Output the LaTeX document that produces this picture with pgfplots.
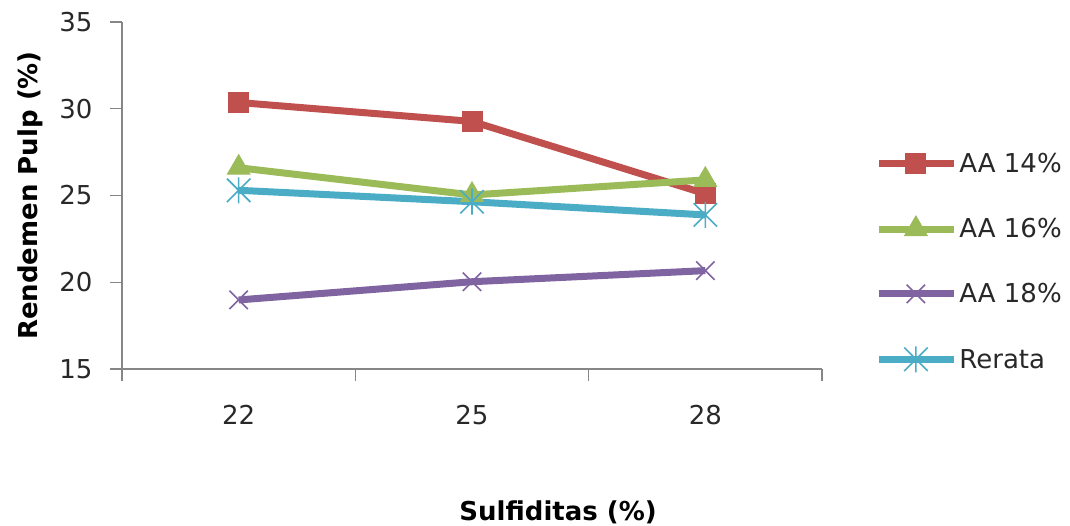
\documentclass[border=0pt]{standalone}
\usepackage{fontspec}
\setmainfont{DejaVu Sans}
\usepackage{pgfplots}
\pgfplotsset{compat=1.18}
\definecolor{cRed}{RGB}{192,80,77}
\definecolor{cGreen}{RGB}{155,187,89}
\definecolor{cPurple}{RGB}{128,100,162}
\definecolor{cCyan}{RGB}{75,172,198}
\definecolor{axgray}{RGB}{134,134,134}
\definecolor{txt}{RGB}{40,40,40}
\pgfdeclareplotmark{xstar}{%
  \pgfpathmoveto{\pgfqpoint{-0.9\pgfplotmarksize}{-0.9\pgfplotmarksize}}%
  \pgfpathlineto{\pgfqpoint{0.9\pgfplotmarksize}{0.9\pgfplotmarksize}}%
  \pgfpathmoveto{\pgfqpoint{-0.9\pgfplotmarksize}{0.9\pgfplotmarksize}}%
  \pgfpathlineto{\pgfqpoint{0.9\pgfplotmarksize}{-0.9\pgfplotmarksize}}%
  \pgfpathmoveto{\pgfqpoint{0pt}{-\pgfplotmarksize}}%
  \pgfpathlineto{\pgfqpoint{0pt}{\pgfplotmarksize}}%
  \pgfusepathqstroke}
\begin{document}
\begin{tikzpicture}
\path[use as bounding box] (-122pt,-157pt) rectangle (948pt,369pt);
\begin{axis}[
  at={(0pt,0pt)}, anchor=south west,
  width=700pt, height=347pt, scale only axis,
  xmin=-0.5, xmax=2.5, ymin=15, ymax=35,
  axis lines*=left,
  axis line style={axgray, line width=1.2pt, -},
  xtick={0,1,2}, xticklabels={22,25,28},
  minor xtick={-0.5,0.5,1.5,2.5},
  ytick={15,20,25,30,35},
  tick align=outside,
  major x tick style={draw=none},
  minor x tick style={axgray, line width=1.2pt},
  minor tick length=12pt,
  major y tick style={axgray, line width=1.2pt},
  major tick length=12pt,
  /pgf/number format/assume math mode=true,
  tick label style={font=\fontsize{26}{31}\selectfont, text=txt},
  xticklabel style={yshift=-21pt},
  yticklabel style={xshift=-14pt},
  xlabel={Sulfiditas (\%)},
  ylabel={Rendemen Pulp (\%)},
  every axis x label/.style={at={(axis description cs:0.623,-0.412)}, anchor=center,
    font=\fontsize{26}{31}\selectfont\bfseries, text=black},
  every axis y label/.style={at={(axis description cs:-0.131,0.5)}, rotate=90, anchor=center,
    font=\fontsize{26}{31}\selectfont\bfseries, text=black},
  legend style={at={(axis description cs:1.076,0.628)}, anchor=north west, draw=none, fill=none,
    font=\fontsize{26}{31}\selectfont, text=txt, row sep=40pt, inner sep=0pt,
    nodes={inner sep=2pt}},
  legend cell align=left,
  legend image code/.code={\draw[mark repeat=2,mark phase=2] plot coordinates {(0pt,0pt) (37pt,0pt) (75pt,0pt)};},
  every axis plot/.append style={line width=7pt},
]
\addplot[cRed, mark=square*, mark size=10pt, mark options={line width=1pt}] coordinates {(0,30.36) (1,29.27) (2,25.1)};
\addlegendentry{AA 14\%}
\addplot[cGreen, mark=triangle*, mark size=13pt, mark options={line width=1pt}] coordinates {(0,26.6) (1,25.03) (2,25.9)};
\addlegendentry{AA 16\%}
\addplot[cPurple, mark=x, mark size=13pt, mark options={line width=1.6pt}] coordinates {(0,18.98) (1,20.03) (2,20.67)};
\addlegendentry{AA 18\%}
\addplot[cCyan, mark=xstar, mark size=13pt, mark options={line width=1.6pt}] coordinates {(0,25.3) (1,24.64) (2,23.88)};
\addlegendentry{Rerata}
\end{axis}
\end{tikzpicture}
\end{document}
